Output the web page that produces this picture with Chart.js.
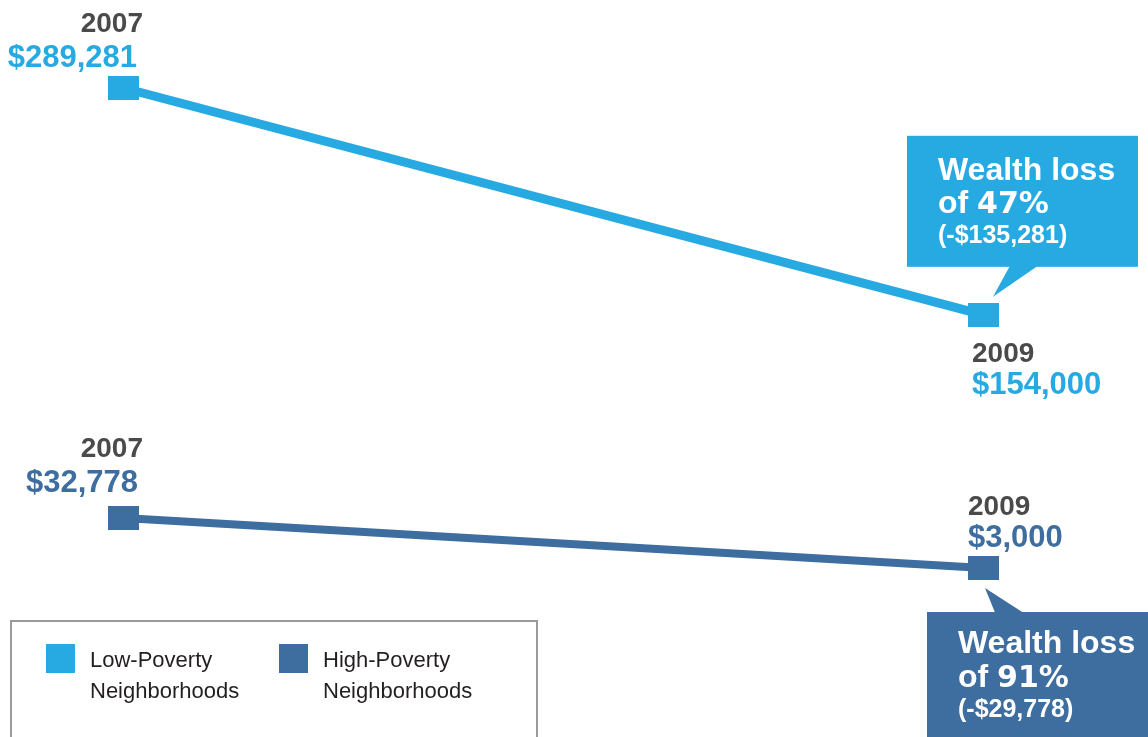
<!DOCTYPE html>
<html>
<head>
<meta charset="utf-8">
<script src="https://cdn.jsdelivr.net/npm/chart.js@4"></script>
<style>
  html, body { margin: 0; padding: 0; background: #fff; }
  #wrap { width: 1148px; height: 737px; position: relative; overflow: hidden; }
</style>
</head>
<body>
<div id="wrap"><canvas id="wealthChart" width="1148" height="737"></canvas></div>
<script>
// Data
const years = [2007, 2009];
const lowPoverty = [289281, 154000];
const highPoverty = [32778, 3000];
const seriesNames = ['Low-Poverty Neighborhoods', 'High-Poverty Neighborhoods'];
const seriesColors = ['#27a9e1', '#3e6e9f'];

const LIGHT = seriesColors[0];
const DARK = seriesColors[1];
const GREY = '#4a4a4a';
const SANS = '"Liberation Sans", Arial, sans-serif';

function money(v) {
  return '$' + Math.abs(v).toLocaleString('en-US');
}

// rectangular marker, a bit wider than tall
function makeMarker(color) {
  const c = document.createElement('canvas');
  c.width = 31;
  c.height = 24;
  const g = c.getContext('2d');
  g.fillStyle = color;
  g.fillRect(0, 0, 31, 24);
  return c;
}

function toPoints(values) {
  return years.map((yr, i) => ({ x: yr, y: values[i] }));
}

// Draws the value labels, the callouts and the legend box
const annotations = {
  id: 'annotations',
  afterDatasetsDraw(chart) {
    const ctx = chart.ctx;
    const low = chart.getDatasetMeta(0).data;
    const high = chart.getDatasetMeta(1).data;
    ctx.save();
    ctx.textBaseline = 'alphabetic';

    function label(text, x, y, font, color, align) {
      ctx.font = font;
      ctx.fillStyle = color;
      ctx.textAlign = align;
      ctx.fillText(text, x, y);
    }

    // point labels
    const yearFont = 'bold 28px ' + SANS;
    const valFont = 'bold 31px ' + SANS;
    label(String(years[0]), low[0].x + 19.5, low[0].y - 56, yearFont, GREY, 'right');
    label(money(lowPoverty[0]), low[0].x + 13.5, low[0].y - 21, valFont, LIGHT, 'right');
    label(String(years[1]), low[1].x - 11.5, low[1].y + 47, yearFont, GREY, 'left');
    label(money(lowPoverty[1]), low[1].x - 11.5, low[1].y + 79, valFont, LIGHT, 'left');

    label(String(years[0]), high[0].x + 19.5, high[0].y - 61, yearFont, GREY, 'right');
    label(money(highPoverty[0]), high[0].x + 14.5, high[0].y - 26, valFont, DARK, 'right');
    label(String(years[1]), high[1].x - 15.5, high[1].y - 53, yearFont, GREY, 'left');
    label(money(highPoverty[1]), high[1].x - 15.5, high[1].y - 21, valFont, DARK, 'left');

    // callouts
    function callout(values, color, box, tail, textX, baselines) {
      ctx.fillStyle = color;
      ctx.fillRect(box[0], box[1], box[2], box[3]);
      ctx.beginPath();
      ctx.moveTo(tail[0], tail[1]);
      ctx.lineTo(tail[2], tail[3]);
      ctx.lineTo(tail[4], tail[5]);
      ctx.closePath();
      ctx.fill();

      const diff = values[1] - values[0];
      const pct = Math.round(-diff / values[0] * 100);
      ctx.fillStyle = '#fff';
      ctx.textAlign = 'left';
      ctx.font = 'bold 32px ' + SANS;
      ctx.fillText('Wealth loss', textX, baselines[0]);
      ctx.fillText('of ', textX, baselines[1]);
      const w = ctx.measureText('of ').width;
      ctx.font = 'bold 30px "DejaVu Sans", sans-serif';
      ctx.fillText(pct + '%', textX + w, baselines[1]);
      ctx.font = 'bold 25px ' + SANS;
      ctx.fillText('(-' + money(diff) + ')', textX, baselines[2]);
    }

    const p1 = low[1];
    callout(lowPoverty, LIGHT,
      [p1.x - 76.5, p1.y - 179, 231, 131],
      [p1.x + 26.5, p1.y - 49, p1.x + 54.5, p1.y - 49, p1.x + 9.5, p1.y - 18],
      p1.x - 45.5, [p1.y - 135, p1.y - 102, p1.y - 72]);

    const p2 = high[1];
    callout(highPoverty, DARK,
      [p2.x - 56.5, p2.y + 44, 240, 140],
      [p2.x + 11.5, p2.y + 44.5, p2.x + 39.5, p2.y + 44.5, p2.x + 1.5, p2.y + 20],
      p2.x - 25.5, [p2.y + 85, p2.y + 119, p2.y + 149]);

    // legend box
    ctx.strokeStyle = '#9a9a9a';
    ctx.lineWidth = 2;
    ctx.strokeRect(11, 621, 526, 140);
    const legX = [46, 279];
    seriesNames.forEach((name, i) => {
      ctx.fillStyle = seriesColors[i];
      ctx.fillRect(legX[i], 644, 29, 29);
      const parts = name.split(' ');
      ctx.fillStyle = '#231f20';
      ctx.font = '22px ' + SANS;
      ctx.textAlign = 'left';
      ctx.fillText(parts[0], legX[i] + 44, 667);
      ctx.fillText(parts[1], legX[i] + 44, 698);
    });

    ctx.restore();
  }
};

document.addEventListener('DOMContentLoaded', function() {
  const ctx = document.getElementById('wealthChart').getContext('2d');
  new Chart(ctx, {
    type: 'line',
    data: {
      datasets: [{
        label: seriesNames[0],
        data: toPoints(lowPoverty),
        borderColor: LIGHT,
        backgroundColor: LIGHT,
        borderWidth: 9,
        pointStyle: makeMarker(LIGHT),
        clip: false
      }, {
        label: seriesNames[1],
        data: toPoints(highPoverty),
        borderColor: DARK,
        backgroundColor: DARK,
        borderWidth: 8,
        pointStyle: makeMarker(DARK),
        clip: false
      }]
    },
    options: {
      responsive: false,
      animation: false,
      devicePixelRatio: 1,
      layout: { padding: 0, autoPadding: false },
      plugins: {
        legend: { display: false },
        tooltip: { enabled: false }
      },
      scales: {
        x: { type: 'linear', display: false, min: 2006.7128, max: 2009.3826 },
        y: { type: 'linear', display: false, min: -97792, max: 341766 }
      }
    },
    plugins: [annotations]
  });
});
</script>
</body>
</html>
